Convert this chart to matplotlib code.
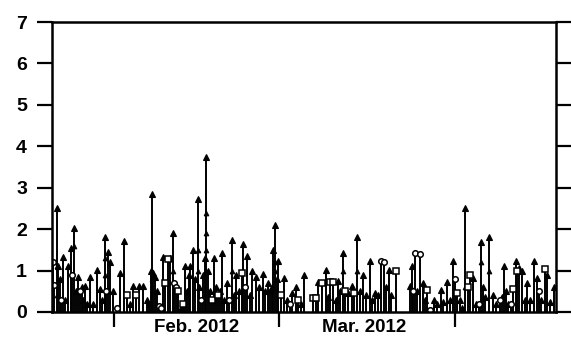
import numpy as np
import matplotlib
matplotlib.use('Agg')
import matplotlib.pyplot as plt
import matplotlib.dates as mdates

# days after 1 Feb 2012 (negative = January) and the measured values
tri_days = [-10.08, -9.77, -9.50, -8.92, -8.62, -8.04, -7.62, -7.04, -6.69, -6.33,
            -5.68, -5.45, -5.10, -4.75, -4.22, -3.75, -2.94, -2.46, -2.11, -1.58,
            -1.00, -0.70, -0.23,
            1.06, 1.76, 2.82, 3.29, 4.45, 5.16, 5.75, 6.16, 6.46, 6.63, 6.95, 7.21,
            7.57, 8.68, 9.85, 10.33, 11.79, 12.49, 12.85, 13.20, 13.46, 13.95, 14.25,
            14.73, 15.04, 15.66, 16.01, 16.19, 16.54, 16.89, 17.65, 18.04, 18.65,
            19.00, 19.44, 19.94, 20.71, 21.12, 21.56, 22.00, 22.65, 23.46, 23.93,
            24.28, 24.99, 25.51, 26.27, 26.66, 27.10, 27.45, 27.80, 28.07, 28.33,
            28.68,
            28.91, 29.97, 30.44, 31.32, 31.97, 32.91, 33.43, 35.95, 37.25, 37.65,
            39.06, 39.36, 39.77, 40.24, 41.18, 41.83, 42.81, 43.29, 43.87, 44.35,
            45.05, 45.49, 45.93, 46.46, 47.86, 48.44, 48.83, 52.09, 52.38, 53.32,
            54.42, 54.72, 56.25, 56.90, 57.49, 57.89, 58.54, 59.12, 59.70,
            60.88, 61.24, 61.82, 63.12, 63.70, 64.58, 64.94, 65.29, 66.05, 66.64,
            67.22, 68.27, 68.63, 68.98, 69.38, 70.68, 71.26, 71.84, 72.32, 72.72,
            73.19, 73.89, 74.47, 75.24, 76.23, 76.72, 77.42]
tri_vals = [2.50, 1.10, 0.80, 1.32, 0.30, 1.11, 1.54, 2.02, 0.50, 0.84,
            0.61, 0.30, 0.62, 0.20, 0.84, 0.20, 1.01, 0.55, 0.30, 1.82,
            1.46, 1.20, 0.50,
            0.93, 1.72, 0.20, 0.62, 0.62, 0.62, 0.30, 0.20, 1.00, 2.85, 0.95, 0.85,
            0.50, 1.32, 1.30, 1.90, 0.10, 1.10, 0.50, 0.90, 1.10, 1.50, 0.80,
            2.72, 0.60, 0.90, 1.30, 3.75, 1.00, 0.50, 1.31, 0.60, 0.50,
            1.42, 0.30, 0.69, 1.74, 0.40, 0.90, 0.50, 1.63, 1.34, 0.40,
            1.00, 0.85, 0.60, 0.92, 0.50, 0.70, 0.50, 0.60, 1.50, 2.10,
            0.80,
            1.23, 0.81, 0.30, 0.45, 0.61, 0.20, 0.89, 0.73, 1.01, 0.35,
            0.30, 0.75, 0.50, 1.43, 0.45, 0.62, 1.80, 0.50, 0.89, 0.40,
            1.24, 0.30, 0.45, 0.40, 0.60, 1.01, 0.40, 0.62, 1.10, 0.50,
            0.71, 0.30, 0.30, 0.20, 0.53, 0.25, 0.73, 0.30, 1.22,
            0.30, 0.10, 2.50, 0.81, 0.20, 1.70, 0.60, 0.35, 1.80, 0.40,
            0.20, 0.35, 1.10, 0.50, 0.20, 1.23, 1.05, 0.99, 0.30, 0.69,
            0.30, 1.23, 0.81, 0.30, 0.90, 0.25, 0.60]

# lower readings that fall on the same days as taller ones
mid_days = [-10.08, -10.08, -7.04, -1.58, -1.58, 6.63, 6.63, 10.33, 14.73, 14.73,
            16.19, 16.19, 16.19, 16.19, 20.71, 28.33, 28.33, 40.24, 42.81, 61.82,
            64.58, 66.05]
mid_vals = [1.10, 0.40, 1.60, 1.30, 0.90, 1.00, 0.80, 1.00, 1.50, 1.00,
            2.40, 1.90, 1.50, 1.00, 1.00, 1.20, 1.00, 1.00, 1.00, 0.60,
            1.20, 1.00]

circ_days = [-10.73, -10.56, -9.24, -7.30, -5.98, -1.32, 0.53, 7.92, 8.27, 10.65,
             11.00, 15.31, 20.32, 23.05, 30.97, 46.93, 47.56, 52.61, 52.96, 53.84,
             55.61, 60.00, 64.28, 67.92, 69.86, 74.86]
circ_vals = [1.20, 0.65, 0.30, 0.90, 0.50, 0.50, 0.10, 0.15, 0.10, 0.70,
             0.60, 0.30, 0.30, 0.60, 0.20, 1.22, 1.20, 0.50, 1.43, 1.40,
             0.05, 0.80, 0.20, 0.30, 0.20, 0.50]

sq_days = [2.34, 3.87, 8.97, 9.50, 11.35, 12.14, 17.24, 18.39, 22.47, 29.39,
           32.38, 35.07, 35.54, 36.60, 38.01, 38.54, 40.65, 42.23, 49.62, 55.13,
           60.36, 62.28, 62.58, 70.27, 70.99, 75.82]
sq_vals = [0.40, 0.40, 0.70, 1.28, 0.50, 0.20, 0.30, 0.40, 0.95, 0.40,
           0.30, 0.34, 0.34, 0.70, 0.72, 0.72, 0.50, 0.45, 1.00, 0.53,
           0.45, 0.60, 0.90, 0.55, 1.00, 1.04]

start = np.datetime64('2012-02-01T00:00')


def to_dates(days):
    mins = np.round(np.array(days) * 24 * 60).astype('timedelta64[m]')
    return (start + mins).astype('datetime64[s]').astype(object)


plt.rcParams['font.family'] = ['Liberation Sans', 'DejaVu Sans']
plt.rcParams['font.weight'] = 'bold'

fig = plt.figure(figsize=(5.71, 3.37), dpi=100)
ax = fig.add_axes([0.0911, 0.0742, 0.9737 - 0.0911, 0.9347 - 0.0742])

for days, vals in [(tri_days, tri_vals), (circ_days, circ_vals), (sq_days, sq_vals)]:
    ax.vlines(to_dates(days), 0, vals, color='black', lw=1.4)

ax.plot(to_dates(tri_days), tri_vals, '^', color='black', ms=4.5, mew=0.8)
ax.plot(to_dates(mid_days), mid_vals, '^', color='black', ms=3.5, mew=0.6)
ax.plot(to_dates(circ_days), circ_vals, 'o', mfc='white', mec='black', ms=4, mew=1.1)
ax.plot(to_dates(sq_days), sq_vals, 's', mfc='white', mec='black', ms=3.8, mew=1.1)

ax.set_xlim(to_dates([-10.9])[0], to_dates([77.8])[0])
ax.set_ylim(0, 7)

ax.xaxis.set_major_locator(mdates.MonthLocator(bymonthday=1))
ax.xaxis.set_major_formatter(plt.NullFormatter())
ax.set_xticks(to_dates([14.5, 44.0]), minor=True)
ax.set_xticklabels(['Feb. 2012', 'Mar. 2012'], minor=True)
ax.tick_params(axis='x', which='major', direction='out', length=11, width=1.6)
ax.tick_params(axis='x', which='minor', length=0, pad=5, labelsize=13.5)

ax.set_yticks(range(8))
ax.tick_params(axis='y', which='major', direction='out', length=11, width=1.6,
               pad=7, labelsize=14, right=True)

for sp in ax.spines.values():
    sp.set_linewidth(1.8)

fig.savefig('out.png', dpi=100)
